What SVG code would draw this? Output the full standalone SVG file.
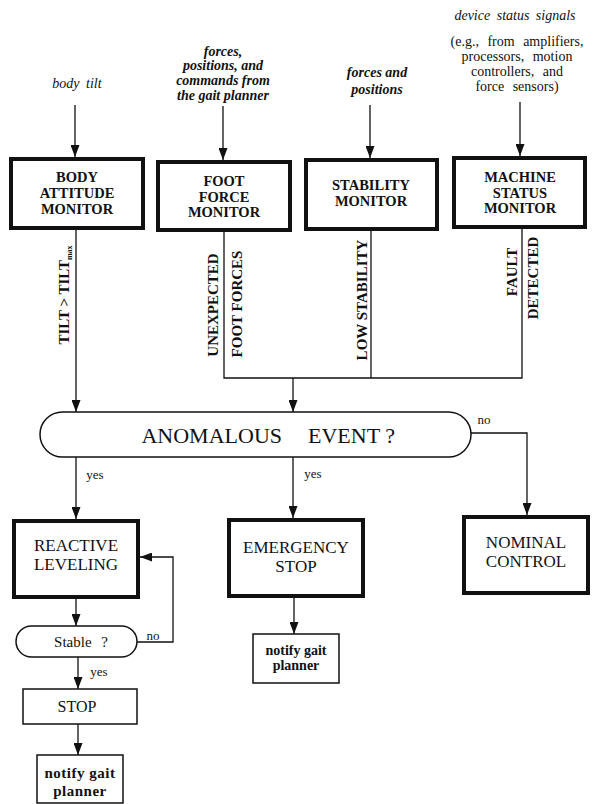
<svg xmlns="http://www.w3.org/2000/svg" width="598" height="804" viewBox="0 0 598 804">
<defs>
<marker id="ah" markerWidth="12" markerHeight="9" refX="12" refY="4.5" orient="auto" markerUnits="userSpaceOnUse" viewBox="0 0 12 9">
<path d="M0,0 L12,4.5 L0,9 Z" fill="#111"/>
</marker>
<style>
.bx{fill:#fff;stroke:#111;stroke-width:4}
.sb{fill:#fff;stroke:#111;stroke-width:1.5}
.ln{fill:none;stroke:#111;stroke-width:1.3}
.t{font-family:"Liberation Serif",serif;fill:#111;text-anchor:middle}
.bt{font-weight:bold;font-size:14.5px}
.big{font-size:17px}
.it{font-style:italic;font-size:14px}
.itb{font-style:italic;font-weight:bold;font-size:14px}
.up{font-size:14px}
.vl{font-weight:bold;font-size:15px}
.sm{font-size:13px}
.nt{font-size:15px;font-weight:bold}
</style>
</defs>
<rect width="598" height="804" fill="#fff"/>

<g id="inputs">
<text class="t it" x="77" y="88" word-spacing="3">body tilt</text>
<text class="t itb"><tspan x="223" y="56">forces,</tspan><tspan x="223" y="70">positions, and</tspan><tspan x="223" y="85">commands from</tspan><tspan x="223" y="100">the gait planner</tspan></text>
<text class="t itb"><tspan x="377" y="77">forces and</tspan><tspan x="377" y="94">positions</tspan></text>
<text class="t it" x="515" y="20" font-size="15" word-spacing="3">device status signals</text>
<text class="t up" word-spacing="5"><tspan x="517" y="46">(e.g., from amplifiers,</tspan><tspan x="517" y="61">processors, motion</tspan><tspan x="517" y="76">controllers, and</tspan><tspan x="517" y="91">force sensors)</tspan></text>
</g>

<g id="connectors">
<line class="ln" x1="75" y1="105" x2="75" y2="157" marker-end="url(#ah)"/>
<line class="ln" x1="223" y1="106" x2="223" y2="160" marker-end="url(#ah)"/>
<line class="ln" x1="370" y1="105" x2="370" y2="158" marker-end="url(#ah)"/>
<line class="ln" x1="520" y1="102" x2="520" y2="156" marker-end="url(#ah)"/>
<line class="ln" x1="76" y1="228" x2="76" y2="412" marker-end="url(#ah)"/>
<polyline class="ln" points="224,230 224,378 522,378 522,227"/>
<line class="ln" x1="371" y1="229" x2="371" y2="378"/>
<line class="ln" x1="293" y1="378" x2="293" y2="412" marker-end="url(#ah)"/>
<line class="ln" x1="76" y1="457" x2="76" y2="519" marker-end="url(#ah)"/>
<line class="ln" x1="293" y1="457" x2="293" y2="518" marker-end="url(#ah)"/>
<polyline class="ln" points="471,433 527,433 527,515" marker-end="url(#ah)"/>
<line class="ln" x1="76" y1="597" x2="76" y2="626" marker-end="url(#ah)"/>
<polyline class="ln" points="137,642 173,642 173,557 140,557" marker-end="url(#ah)"/>
<line class="ln" x1="78" y1="657" x2="78" y2="689" marker-end="url(#ah)"/>
<line class="ln" x1="78" y1="724" x2="78" y2="755" marker-end="url(#ah)"/>
<line class="ln" x1="294" y1="596" x2="294" y2="634" marker-end="url(#ah)"/>
<text class="t vl" transform="translate(69,295) rotate(-90)">TILT &gt; TILT<tspan font-size="8" dy="3">max</tspan></text>
<text class="t vl" transform="translate(218,305) rotate(-90)">UNEXPECTED</text>
<text class="t vl" transform="translate(242,304) rotate(-90)">FOOT FORCES</text>
<text class="t vl" transform="translate(367,300) rotate(-90)">LOW STABILITY</text>
<text class="t vl" transform="translate(517,272) rotate(-90)">FAULT</text>
<text class="t vl" transform="translate(538,278) rotate(-90)">DETECTED</text>
<text class="t sm" x="95" y="479">yes</text>
<text class="t sm" x="313" y="478">yes</text>
<text class="t sm" x="484" y="424">no</text>
<text class="t sm" x="153" y="640">no</text>
<text class="t sm" x="99" y="676">yes</text>
</g>

<g id="body-attitude-monitor">
<rect class="bx" x="11" y="159" width="132" height="69"/>
<text class="t bt"><tspan x="77" y="182">BODY</tspan><tspan x="77" y="198">ATTITUDE</tspan><tspan x="77" y="214">MONITOR</tspan></text>
</g>
<g id="foot-force-monitor">
<rect class="bx" x="158" y="162" width="132" height="68"/>
<text class="t bt"><tspan x="224" y="186">FOOT</tspan><tspan x="224" y="201.5">FORCE</tspan><tspan x="224" y="217">MONITOR</tspan></text>
</g>
<g id="stability-monitor">
<rect class="bx" x="306" y="160" width="131" height="69"/>
<text class="t bt"><tspan x="371" y="190">STABILITY</tspan><tspan x="371" y="206">MONITOR</tspan></text>
</g>
<g id="machine-status-monitor">
<rect class="bx" x="454" y="158" width="131" height="69"/>
<text class="t bt"><tspan x="520" y="182">MACHINE</tspan><tspan x="520" y="197.5">STATUS</tspan><tspan x="520" y="213">MONITOR</tspan></text>
</g>

<g id="anomalous-event">
<rect class="sb" x="40" y="412" width="431" height="45" rx="22.5"/>
<text class="t" x="282" y="443" font-size="22" style="text-anchor:end">ANOMALOUS</text>
<text class="t" x="308" y="443" font-size="22" style="text-anchor:start">EVENT ?</text>
</g>

<g id="reactive-leveling">
<rect class="bx" x="14" y="521" width="124" height="76"/>
<text class="t big"><tspan x="76" y="551">REACTIVE</tspan><tspan x="76" y="569.5">LEVELING</tspan></text>
</g>
<g id="stable">
<rect class="sb" x="16" y="626" width="121" height="31" rx="15.5"/>
<text class="t" x="81" y="647" font-size="15" word-spacing="6">Stable ?</text>
</g>
<g id="stop">
<rect class="sb" x="23" y="689" width="114" height="35"/>
<text class="t" x="77" y="712" font-size="16">STOP</text>
</g>
<g id="notify-1">
<rect class="sb" x="37" y="755" width="86" height="48"/>
<text class="t nt" letter-spacing="0.5"><tspan x="80" y="778">notify gait</tspan><tspan x="80" y="796">planner</tspan></text>
</g>

<g id="emergency-stop">
<rect class="bx" x="229" y="520" width="134" height="76"/>
<text class="t big"><tspan x="296" y="553">EMERGENCY</tspan><tspan x="296" y="571.5">STOP</tspan></text>
</g>
<g id="notify-2">
<rect class="sb" x="253" y="634" width="86" height="49"/>
<text class="t" font-size="14" font-weight="bold"><tspan x="296" y="655">notify gait</tspan><tspan x="296" y="669.5">planner</tspan></text>
</g>

<g id="nominal-control">
<rect class="bx" x="464" y="517" width="124" height="76"/>
<text class="t big"><tspan x="526" y="548">NOMINAL</tspan><tspan x="526" y="566.5">CONTROL</tspan></text>
</g>
</svg>
